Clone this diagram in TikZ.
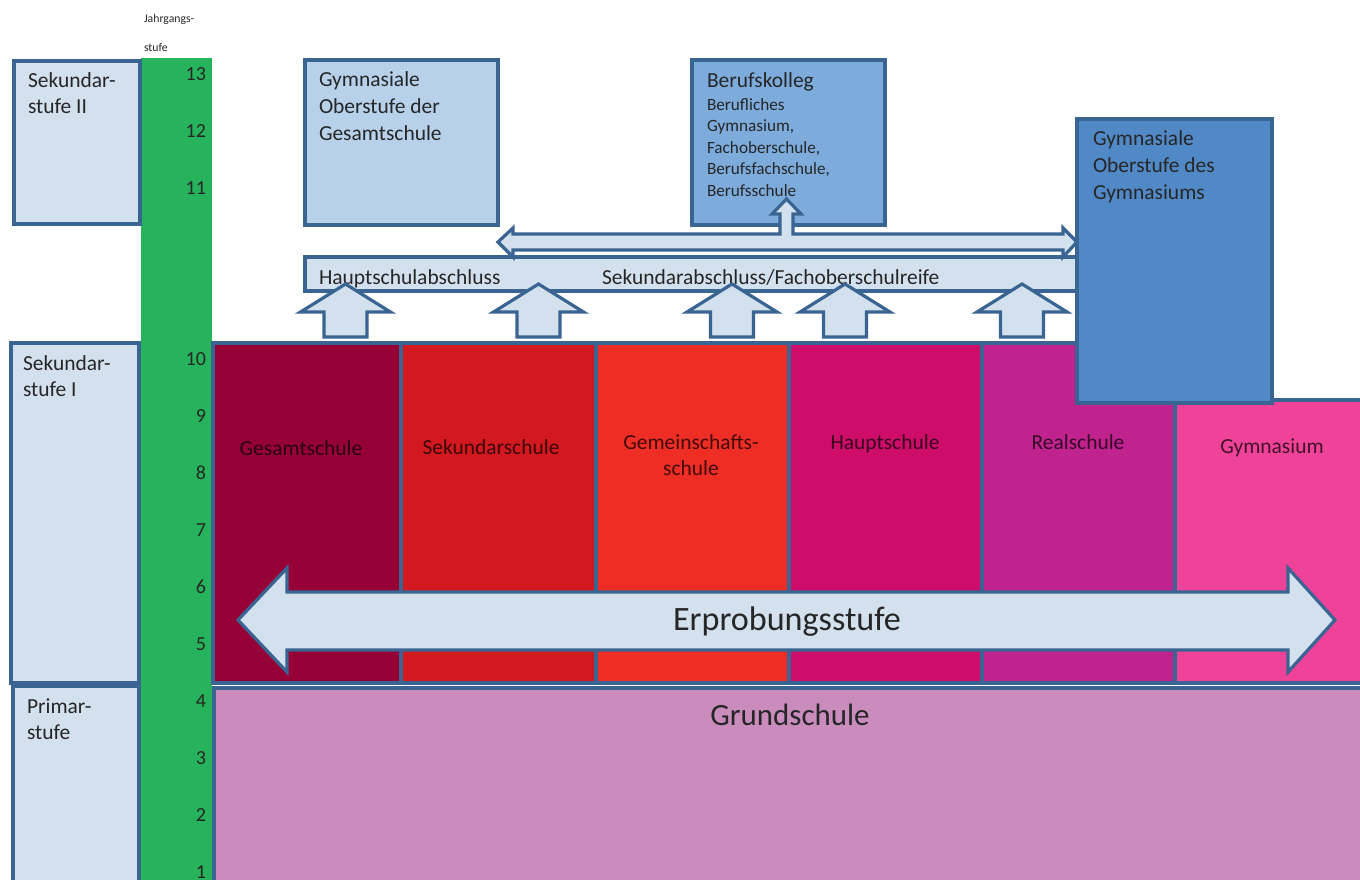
\documentclass[tikz,border=0pt]{standalone}
\usepackage{fontspec}
\setmainfont{Carlito}
\definecolor{lbfill}{HTML}{D3E0EE}
\definecolor{edge}{HTML}{3A6491}
\definecolor{grn}{HTML}{27B35B}
\definecolor{gesamt}{HTML}{950037}
\definecolor{sekund}{HTML}{D21920}
\definecolor{gemein}{HTML}{EE2D24}
\definecolor{haupt}{HTML}{CD0D69}
\definecolor{real}{HTML}{C0228E}
\definecolor{gymn}{HTML}{EE4398}
\definecolor{grund}{HTML}{C98CBC}
\definecolor{obgs}{HTML}{B7D1EA}
\definecolor{beruf}{HTML}{7DACDC}
\definecolor{obgy}{HTML}{5189C7}
\definecolor{txt}{HTML}{262626}
\newcommand\rbox[6]{\node[#2, anchor=north west, minimum width={(#5-#3)*0.75pt}, minimum height={(#6-#4)*0.75pt}] (#1) at (#3,#4) {};}
\tikzset{
  shp/.style={draw=edge, line width=2.4pt},
  lbox/.style={shp, fill=lbfill},
  blockarrow/.style={draw=edge, line width=2.4pt, fill=lbfill, line join=miter},
  lbl/.style={font=\fontsize{16.1}{19.5}\selectfont, align=left, anchor=base west},
  num/.style={font=\fontsize{15}{18}\selectfont, anchor=base east},
  school/.style={font=\fontsize{16.1}{19.5}\selectfont, align=center, anchor=base, text=black, text opacity=0.72},
}
\begin{document}
\begin{tikzpicture}[x=0.75pt, y=-0.75pt, every node/.style={inner sep=0pt, outer sep=0pt, text=txt}]
\useasboundingbox (0,0) rectangle (1360,879);
\clip (0,0) rectangle (1360,879);

% green year column
\fill[grn] (141,58) rectangle (212,890);

% stage boxes on the left (multi-line nodes: base = last line)
\rbox{sekII}{lbox}{14}{61}{140}{224}
\rbox{sekI}{lbox}{11}{343}{139}{683}
\rbox{prim}{lbox}{13}{686}{139}{900}
\node[lbl] (tsekII) at (28,113) {Sekundar-\\stufe II};
\node[lbl] (tsekI) at (23,396) {Sekundar-\\stufe I};
\node[lbl] (tprim) at (27,739) {Primar-\\stufe};

% Jahrgangsstufe
\node[font=\fontsize{8.8}{21.75}\selectfont, align=left, anchor=base west] (jg) at (144,51) {Jahrgangs-\\stufe};
\foreach \n/\yy in {13/80,12/137,11/194,10/365,9/422,8/479,7/536,6/593,5/650,4/707,3/764,2/821,1/878}
  \node[num] (n\n) at (206,\yy) {\n};

% Grundschule
\rbox{gs}{shp, fill=grund}{214}{688}{1420}{920}
\node[font=\fontsize{23.2}{28}\selectfont, anchor=base] (tgs) at (790,725) {Grundschule};

% Sekundarstufe I schools
\rbox{s1}{shp, fill=gesamt}{213}{343}{401}{683}
\rbox{s2}{shp, fill=sekund}{401}{343}{596}{683}
\rbox{s3}{shp, fill=gemein}{596}{343}{789}{683}
\rbox{s4}{shp, fill=haupt}{789}{343}{982}{683}
\rbox{s5}{shp, fill=real}{982}{343}{1175}{683}
\rbox{s6}{shp, fill=gymn}{1175}{400}{1420}{683}
\node[school] (t1) at (301,455) {Gesamtschule};
\node[school] (t2) at (491,454) {Sekundarschule};
\node[school] (t3) at (691,475) {Gemeinschafts-\\schule};
\node[school] (t4) at (885,449) {Hauptschule};
\node[school] (t5) at (1078,449) {Realschule};
\node[school] (t6) at (1272,453) {Gymnasium};

% Erprobungsstufe double arrow
\draw[blockarrow] (238,620) -- (287,568) -- (287,592) -- (1288,592) -- (1288,568) -- (1335,620)
  -- (1288,672) -- (1288,650) -- (287,650) -- (287,672) -- cycle;
\node[font=\fontsize{25.6}{30}\selectfont, anchor=base] (terp) at (787,630) {Erprobungsstufe};

% Abschluss bar
\rbox{abs}{lbox}{305}{257}{1077}{291}
\node[lbl] (thsa) at (319,284) {Hauptschulabschluss};
\node[lbl] (tsek) at (602,284) {Sekundarabschluss/Fachoberschulreife};

% up arrows
\foreach \cx in {345.5,538.5,732,845,1022}
  \draw[blockarrow] (\cx,284) -- (\cx+45,312) -- (\cx+21.5,312) -- (\cx+21.5,337)
    -- (\cx-21.5,337) -- (\cx-21.5,312) -- (\cx-45,312) -- cycle;

% upper boxes
\rbox{obgs}{shp, fill=obgs}{305}{60}{498}{225}
\rbox{bk}{shp, fill=beruf}{692}{60}{885}{225}
\rbox{obgy}{shp, fill=obgy}{1077}{119}{1272}{403}
\node[lbl, font=\fontsize{16.1}{19.9}\selectfont] (tobgs) at (319,140) {Gymnasiale\\Oberstufe der\\Gesamtschule};
\node[lbl] (tbk) at (707,87) {Berufskolleg};
\node[lbl, font=\fontsize{12.9}{16.1}\selectfont] (tbk2) at (707,196) {Berufliches\\Gymnasium,\\Fachoberschule,\\Berufsfachschule,\\Berufsschule};
\node[lbl, font=\fontsize{16.1}{19.9}\selectfont] (tobgy) at (1093,199) {Gymnasiale\\Oberstufe des\\Gymnasiums};

% double arrow with branch to Berufskolleg
\draw[blockarrow] (498,242) -- (513,228) -- (513,234) -- (780,234) -- (780,214) -- (772,214)
  -- (786.5,199) -- (801,214) -- (793,214) -- (793,234) -- (1063,234) -- (1063,228)
  -- (1077,242) -- (1063,257) -- (1063,250) -- (513,250) -- (513,257) -- cycle;
\end{tikzpicture}
\end{document}
